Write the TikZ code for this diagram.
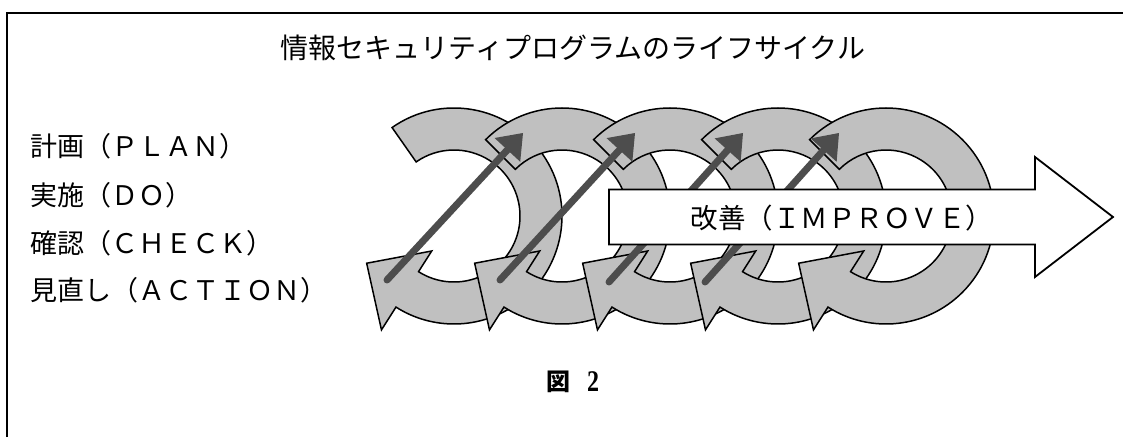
\documentclass[tikz,border=0pt]{standalone}
\usepackage{fontspec}
\newfontfamily\jp{Noto Sans CJK JP}
\newfontfamily\serifb{Liberation Serif}
\usetikzlibrary{arrows.meta}
\definecolor{ringgray}{RGB}{192,192,192}
\definecolor{darkarrowgray}{RGB}{77,77,77}
\begin{document}
\begin{tikzpicture}[x=1pt,y=1pt,
  ring/.style={fill=ringgray, draw=black, line width=1.5pt, line join=miter},
  darrow/.style={draw=darkarrowgray, line width=7pt, line cap=round,
     -{Triangle[length=23pt,width=35pt,line width=0pt]}},
  bigarrow/.style={draw=black, fill=white, line width=1.8pt, line join=miter},
  lab/.style={anchor=west, inner sep=0pt, font=\jp\fontsize{27}{30}\selectfont},
  titlestyle/.style={inner sep=0pt, font=\jp\fontsize{28}{32}\selectfont}]
\useasboundingbox (0,0) rectangle (1123,437);
\fill[white] (0,0) rectangle (1123,437);
% frame
\draw[line width=2pt] (7,0) -- (7,424.3) -- (1123,424.3);
% title
\node[titlestyle] (title) at (573,389) {情報セキュリティプログラムのライフサイクル};
% labels
\node[lab] (plan)  at (30,291) {計画（ＰＬＡＮ）};
\node[lab] (do)    at (30,242) {実施（ＤＯ）};
\node[lab] (check) at (30,194) {確認（ＣＨＥＣＫ）};
\node[lab] (act)   at (30,147) {見直し（ＡＣＴＩＯＮ）};
% circular arrows
\foreach \cx/\ta in {454/125, 562/135, 670/135, 778/135, 886/135}{
  \begin{scope}[shift={(\cx,221)}]
    \path[ring] (\ta:108) arc[start angle=\ta, end angle=-122.5, radius=108]
      -- (237.5:135) -- (208.4:99.3) -- (237.5:41.5) -- (237.5:66)
      arc[start angle=237.5, end angle={\ta+360}, radius=66] -- cycle;
  \end{scope}
}
% dark arrows
\coordinate (s1) at (387,157); \coordinate (e1) at (523,304);
\coordinate (s2) at (500,157); \coordinate (e2) at (635,304);
\coordinate (s3) at (609,155); \coordinate (e3) at (743,304);
\coordinate (s4) at (705,155); \coordinate (e4) at (839,304);
\draw[darrow] (s1) -- (e1);
\draw[darrow] (s2) -- (e2);
\draw[darrow] (s3) -- (e3);
\draw[darrow] (s4) -- (e4);
% improve arrow
\path[bigarrow] (609,192.5) -- (1035,192.5) -- (1035,160) -- (1113,220)
  -- (1035,280) -- (1035,247.5) -- (609,247.5) -- cycle;
\node[font=\jp\fontsize{27.5}{30}\selectfont, inner sep=0pt] (improve) at (842,219) {改善（ＩＭＰＲＯＶＥ）};
% caption
\node[font=\jp\bfseries\fontsize{24}{26}\selectfont, inner sep=0pt] (figk) at (558,55) {図};
\node[font=\serifb\bfseries\fontsize{30}{32}\selectfont, inner sep=0pt, xscale=0.8] (fign) at (593,55) {2};
\end{tikzpicture}
\end{document}
